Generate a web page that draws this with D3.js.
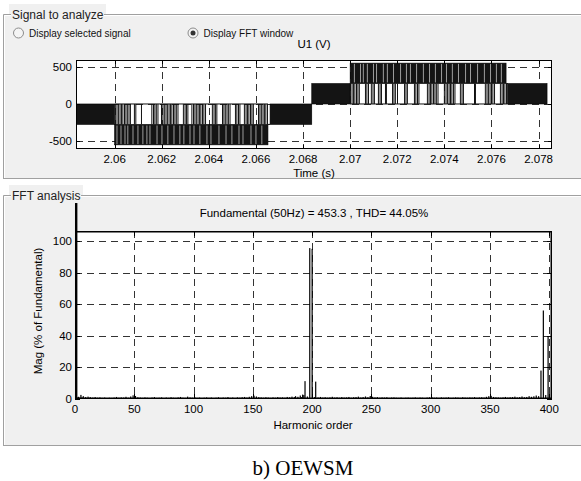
<!DOCTYPE html>
<html><head><meta charset="utf-8">
<script src="https://cdn.jsdelivr.net/npm/d3@7"></script>
<style>body{margin:0;background:#fff}svg{display:block}text{font-family:"Liberation Sans",Arial,sans-serif}</style>
</head><body>
<script>
// ---------- DATA ----------
const timeTicks = [2.06, 2.062, 2.064, 2.066, 2.068, 2.07, 2.072, 2.074, 2.076, 2.078];
const voltTicks = [-500, 0, 500];
const harmTicks = [0, 50, 100, 150, 200, 250, 300, 350, 400];
const magTicks = [0, 20, 40, 60, 80, 100];

// dense switching bands: start time, end time, low level, high level (V)
const bandStart = [2.05838, 2.06000, 2.06660, 2.06837, 2.07000, 2.07668];
const bandEnd   = [2.06000, 2.06651, 2.06837, 2.07000, 2.07662, 2.07836];
const bandLow   = [-275, -550, -275, 0, 275, 0];
const bandHigh  = [0, -275, 0, 275, 550, 275];

// negative half: pulses between 0 and -275 V
const negPulseTimes = [2.06003,2.06010,2.06016,2.06023,2.06029,2.06035,2.06042,2.06048,2.06054,2.06061,2.06067,
 2.06084,2.06090,2.06114,2.06158,2.06165,2.06171,2.06177,2.06184,2.06199,2.06205,2.06211,2.06218,2.06224,2.06231,
 2.06237,2.06243,2.06250,2.06256,2.06262,2.06269,2.06292,2.06299,2.06305,2.06311,2.06328,2.06335,2.06341,2.06347,
 2.06354,2.06360,2.06366,2.06373,2.06379,2.06386,2.06415,2.06422,2.06428,2.06434,2.06458,2.06464,2.06470,2.06477,
 2.06483,2.06490,2.06513,2.06519,2.06526,2.06532,2.06551,2.06558,2.06564,2.06570,2.06577,2.06583,2.06589,2.06611,
 2.06617,2.06623,2.06630,2.06636,2.06642,2.06649];
// gaps inside the -275..-550 V band
const negGapTimes = [2.06010,2.06027,2.06044,2.06056,2.06078,2.06099,2.06120,2.06137,2.06150,2.06180,2.06201,2.06226,
 2.06252,2.06277,2.06294,2.06320,2.06337,2.06362,2.06392,2.06409,2.06443,2.06473,2.06498,2.06528,2.06545,2.06579,
 2.06600,2.06625];
// positive half: pulses between 0 and +275 V
const posPulseTimes = [2.07001,2.07008,2.07014,2.07020,2.07027,2.07033,2.07039,2.07065,2.07071,2.07078,2.07090,2.07097,
 2.07103,2.07120,2.07127,2.07133,2.07150,2.07154,2.07180,2.07186,2.07192,2.07201,2.07231,2.07237,2.07243,2.07273,
 2.07279,2.07286,2.07292,2.07328,2.07335,2.07341,2.07347,2.07354,2.07360,2.07366,2.07373,2.07400,2.07407,2.07413,
 2.07420,2.07426,2.07432,2.07439,2.07445,2.07468,2.07475,2.07481,2.07528,2.07532,2.07574,2.07581,2.07587,2.07594,
 2.07600,2.07606,2.07613,2.07638,2.07645,2.07651,2.07657,2.07664];
// gaps inside the +275..+550 V band
const posGapTimes = [2.07018,2.07044,2.07056,2.07073,2.07099,2.07112,2.07141,2.07158,2.07184,2.07214,2.07239,2.07256,
 2.07282,2.07311,2.07337,2.07362,2.07388,2.07409,2.07434,2.07460,2.07490,2.07511,2.07541,2.07570,2.07596,2.07621,2.07642];

// FFT spectrum (harmonic order, magnitude in % of fundamental)
const fftOrders = [1,2,3,4,5,6,7,8,9,10,11,12,13,14,15,17,19,21,23,25,27,29,31,33,35,37,39,41,43,45,47,49,51,53,55,57,59,61,63,65,67,69,71,73,75,77,79,81,83,85,87,89,91,93,95,97,99,101,103,105,107,109,111,113,115,117,119,121,123,125,127,129,131,133,135,137,139,141,143,145,147,149,151,153,155,157,159,161,163,165,167,169,171,173,175,177,179,181,183,185,186,188,190,191,192,193,194,196,198,200,202,203,205,207,209,211,213,215,217,219,221,223,225,227,229,231,233,235,237,239,241,243,245,247,249,251,253,255,257,259,261,263,265,267,269,271,273,275,277,279,281,283,285,287,289,291,293,295,297,299,301,303,305,307,309,311,313,315,317,319,321,323,325,327,329,331,333,335,337,339,341,343,345,347,349,351,353,355,357,359,361,363,365,367,369,371,373,375,377,379,381,383,385,387,389,391,393,395,397,399];
const fftMags = [124,0.9,1.4,0.8,2.6,1.0,1.8,0.7,1.2,0.6,1.5,0.8,1.1,0.6,0.9,1.2,0.8,1.0,0.7,0.9,0.6,0.8,0.7,0.9,1.3,0.8,1.0,0.9,1.4,0.8,1.6,2.3,1.9,1.1,0.9,0.7,1.0,0.8,0.6,0.9,1.2,0.7,0.8,1.0,0.6,0.9,0.7,1.1,0.8,0.7,1.0,1.3,0.8,0.7,1.5,1.0,0.8,1.2,0.7,0.9,0.6,0.8,1.0,0.7,0.9,0.6,0.8,1.1,0.7,0.9,0.8,1.2,0.7,0.9,0.6,1.0,0.8,1.1,1.3,0.9,1.4,1.8,2.1,1.6,1.2,1.0,0.8,1.1,0.9,0.7,1.0,0.8,1.2,0.9,1.0,0.8,1.3,1.1,1.5,1.2,1.8,1.4,2.2,1.2,2.8,2.5,11.3,1.6,95.5,95.0,1.2,11.0,1.0,1.3,0.9,1.1,0.8,1.0,1.4,0.9,1.1,0.8,1.2,0.9,1.0,1.3,0.8,1.1,1.2,1.5,0.9,1.2,1.6,1.1,1.9,1.4,1.0,1.2,0.8,1.0,0.9,1.1,0.7,0.9,1.0,0.8,0.7,0.9,0.6,0.8,0.9,0.7,0.8,1.0,0.7,0.9,0.8,0.6,0.9,1.1,1.2,0.8,0.9,0.7,1.0,0.8,0.9,1.1,0.7,0.8,1.0,0.9,0.7,1.1,0.9,0.8,1.0,0.9,1.2,0.8,1.0,1.1,0.9,1.4,1.8,2.0,1.3,1.1,1.0,0.8,1.0,1.3,0.9,1.1,1.2,1.5,1.0,1.2,1.6,1.1,1.3,1.8,1.4,1.7,2.2,1.8,18.0,56.0,2.5,39.5];

// ---------- DRAW ----------
const W = 581, H = 481;
const svg = d3.select("body").append("svg").attr("width", W).attr("height", H);
const panelFill = "#f0f0f0", etch = "#a0a0a0";

function panel(y0, y1, label, labelW) {
  svg.append("rect").attr("x", 3).attr("y", y0).attr("width", W - 3).attr("height", y1 - y0).attr("fill", panelFill);
  svg.append("rect").attr("x", 9).attr("y", y0 - 10).attr("width", labelW + 4).attr("height", 10).attr("fill", panelFill);
  const g = svg.append("g").attr("fill", "none");
  g.append("path").attr("d", `M3.5,${y1}V${y0 + .5}H11 M${11 + labelW},${y0 + .5}H${W}`).attr("stroke", etch);
  g.append("path").attr("d", `M4.5,${y1 - 1}V${y0 + 1.5}H11 M${11 + labelW},${y0 + 1.5}H${W}`).attr("stroke", "#fff");
  g.append("path").attr("d", `M3,${y1 - .5}H${W}`).attr("stroke", etch);
  svg.append("text").attr("x", 12).attr("y", y0 + 4.5).attr("font-size", 12).attr("fill", "#222").text(label);
}
panel(14, 179, "Signal to analyze", 93);
panel(195, 446, "FFT analysis", 70);

// radio buttons
function radio(cx, label, sel) {
  svg.append("circle").attr("cx", cx).attr("cy", 33).attr("r", 5).attr("fill", "#f4f4f4").attr("stroke", "#8c8c8c");
  if (sel) svg.append("circle").attr("cx", cx).attr("cy", 33).attr("r", 2.5).attr("fill", "#333");
  svg.append("text").attr("x", cx + 10.5).attr("y", 36.5).attr("font-size", 10).attr("fill", "#111").text(label);
}
radio(18.5, "Display selected signal", false);
radio(193, "Display FFT window", true);

// ----- top axes -----
const tL = 76, tR = 552, tT = 60, tB = 149;
const xT = d3.scaleLinear().domain([2.05836, 2.07857]).range([tL, tR]);
const yT = d3.scaleLinear().domain([-606, 592]).range([tB, tT]);
svg.append("rect").attr("x", tL).attr("y", tT).attr("width", tR - tL).attr("height", tB - tT).attr("fill", "#fff");
svg.append("clipPath").attr("id", "ct").append("rect").attr("x", tL).attr("y", tT).attr("width", tR - tL).attr("height", tB - tT);

const gridT = svg.append("g").attr("stroke", "#333").attr("stroke-dasharray", "7,5").attr("stroke-width", 1);
timeTicks.forEach(t => gridT.append("line").attr("x1", Math.round(xT(t)) + .5).attr("x2", Math.round(xT(t)) + .5).attr("y1", tT).attr("y2", tB));
voltTicks.forEach(v => gridT.append("line").attr("x1", tL).attr("x2", tR).attr("y1", Math.round(yT(v)) + .5).attr("y2", Math.round(yT(v)) + .5));

const sig = svg.append("g").attr("clip-path", "url(#ct)");
const bandIdx = d3.range(bandStart.length);
sig.selectAll(".band").data(bandIdx).join("rect")
  .attr("x", i => xT(bandStart[i])).attr("width", i => xT(bandEnd[i]) - xT(bandStart[i]))
  .attr("y", i => yT(bandHigh[i])).attr("height", i => yT(bandLow[i]) - yT(bandHigh[i]))
  .attr("fill", "#141414").attr("stroke", "#000").attr("stroke-width", 0.6);
sig.selectAll(".ng").data(negGapTimes).join("line")
  .attr("x1", d => xT(d)).attr("x2", d => xT(d)).attr("y1", yT(-290)).attr("y2", yT(-540))
  .attr("stroke", "#d8d8d8").attr("stroke-width", 0.7);
sig.selectAll(".pg").data(posGapTimes).join("line")
  .attr("x1", d => xT(d)).attr("x2", d => xT(d)).attr("y1", yT(290)).attr("y2", yT(540))
  .attr("stroke", "#d8d8d8").attr("stroke-width", 0.7);
sig.selectAll(".np").data(negPulseTimes).join("line")
  .attr("x1", d => xT(d)).attr("x2", d => xT(d)).attr("y1", yT(0)).attr("y2", yT(-275))
  .attr("stroke", "#111").attr("stroke-width", 1);
sig.selectAll(".pp").data(posPulseTimes).join("line")
  .attr("x1", d => xT(d)).attr("x2", d => xT(d)).attr("y1", yT(0)).attr("y2", yT(275))
  .attr("stroke", "#111").attr("stroke-width", 1);
sig.append("line").attr("x1", xT(bandStart[1])).attr("x2", xT(bandEnd[1])).attr("y1", yT(0)).attr("y2", yT(0)).attr("stroke", "#111");
sig.append("line").attr("x1", xT(bandStart[4])).attr("x2", xT(bandStart[5])).attr("y1", yT(0)).attr("y2", yT(0)).attr("stroke", "#111");
sig.append("line").attr("x1", xT(bandEnd[1])).attr("x2", xT(bandStart[2])).attr("y1", yT(-275)).attr("y2", yT(-275)).attr("stroke", "#111");
sig.append("line").attr("x1", xT(bandEnd[4])).attr("x2", xT(bandStart[5])).attr("y1", yT(275)).attr("y2", yT(275)).attr("stroke", "#111");

svg.append("rect").attr("x", tL + .5).attr("y", tT + .5).attr("width", tR - tL - 1).attr("height", tB - tT - 1).attr("fill", "none").attr("stroke", "#000");
const tickT = svg.append("g").attr("stroke", "#000");
timeTicks.forEach(t => { const x = Math.round(xT(t)) + .5;
  tickT.append("line").attr("x1", x).attr("x2", x).attr("y1", tB).attr("y2", tB - 4);
  tickT.append("line").attr("x1", x).attr("x2", x).attr("y1", tT).attr("y2", tT + 4); });
voltTicks.forEach(v => { const y = Math.round(yT(v)) + .5;
  tickT.append("line").attr("x1", tL).attr("x2", tL + 4).attr("y1", y).attr("y2", y);
  tickT.append("line").attr("x1", tR).attr("x2", tR - 4).attr("y1", y).attr("y2", y); });
const fmtT = d => String(+d.toFixed(3));
svg.append("g").selectAll("text").data(timeTicks).join("text")
  .attr("x", d => xT(d)).attr("y", 163).attr("text-anchor", "middle").attr("font-size", 11.5).text(fmtT);
svg.append("g").selectAll("text").data(voltTicks).join("text")
  .attr("x", 72).attr("y", d => yT(d) + 4).attr("text-anchor", "end").attr("font-size", 11.5).text(d => d);
svg.append("text").attr("x", (tL + tR) / 2).attr("y", 48).attr("text-anchor", "middle").attr("font-size", 11.5).text("U1 (V)");
svg.append("text").attr("x", (tL + tR) / 2).attr("y", 176.5).attr("text-anchor", "middle").attr("font-size", 11.5).text("Time (s)");

// ----- FFT axes -----
const fL = 75, fR = 552, fT = 231, fB = 399;
const xF = d3.scaleLinear().domain([0, 402.3]).range([fL, fR]);
const yF = d3.scaleLinear().domain([0, 106.3]).range([fB, fT]);
svg.append("rect").attr("x", fL).attr("y", fT).attr("width", fR - fL).attr("height", fB - fT).attr("fill", "#fff");
const gridF = svg.append("g").attr("stroke", "#333").attr("stroke-dasharray", "7,5");
harmTicks.filter(d => d > 0).forEach(h => gridF.append("line").attr("x1", Math.round(xF(h)) + .5).attr("x2", Math.round(xF(h)) + .5).attr("y1", fT).attr("y2", fB));
magTicks.filter(d => d > 0).forEach(m => gridF.append("line").attr("x1", fL).attr("x2", fR).attr("y1", Math.round(yF(m)) + .5).attr("y2", Math.round(yF(m)) + .5));
svg.append("rect").attr("x", fL + .75).attr("y", fT + .75).attr("width", fR - fL - 1.5).attr("height", fB - fT - 1.5).attr("fill", "none").attr("stroke", "#000").attr("stroke-width", 1.5);
svg.append("g").selectAll("rect").data(d3.range(fftOrders.length)).join("rect")
  .attr("x", i => xF(fftOrders[i]) - (fftOrders[i] === 1 ? 1.2 : 0.6)).attr("width", i => fftOrders[i] === 1 ? 2.4 : 1.2)
  .attr("y", i => yF(fftMags[i])).attr("height", i => yF(0) - yF(fftMags[i]))
  .attr("fill", "#000");
const tickF = svg.append("g").attr("stroke", "#000");
harmTicks.forEach(h => { const x = Math.round(xF(h)) + .5;
  tickF.append("line").attr("x1", x).attr("x2", x).attr("y1", fB).attr("y2", fB - 5);
  tickF.append("line").attr("x1", x).attr("x2", x).attr("y1", fT).attr("y2", fT + 5); });
magTicks.forEach(m => { const y = Math.round(yF(m)) + .5;
  tickF.append("line").attr("x1", fL).attr("x2", fL + 5).attr("y1", y).attr("y2", y);
  tickF.append("line").attr("x1", fR).attr("x2", fR - 5).attr("y1", y).attr("y2", y); });
svg.append("g").selectAll("text").data(harmTicks).join("text")
  .attr("x", d => xF(d)).attr("y", 413).attr("text-anchor", "middle").attr("font-size", 11.5).text(d => d);
svg.append("g").selectAll("text").data(magTicks).join("text")
  .attr("x", 72).attr("y", d => yF(d) + 4).attr("text-anchor", "end").attr("font-size", 11.5).text(d => d);
svg.append("text").attr("x", 314).attr("y", 217).attr("text-anchor", "middle").attr("font-size", 11.5)
  .text("Fundamental (50Hz) = 453.3 , THD= 44.05%");
svg.append("text").attr("x", 313).attr("y", 429).attr("text-anchor", "middle").attr("font-size", 11.5).text("Harmonic order");
svg.append("text").attr("transform", "translate(42,311) rotate(-90)").attr("text-anchor", "middle").attr("font-size", 11.5)
  .text("Mag (% of Fundamental)");

// caption
svg.append("text").attr("x", 303).attr("y", 475).attr("text-anchor", "middle")
  .style("font-family", "'Liberation Serif','Times New Roman',serif").attr("font-size", 21).text("b) OEWSM");
</script>
</body></html>
